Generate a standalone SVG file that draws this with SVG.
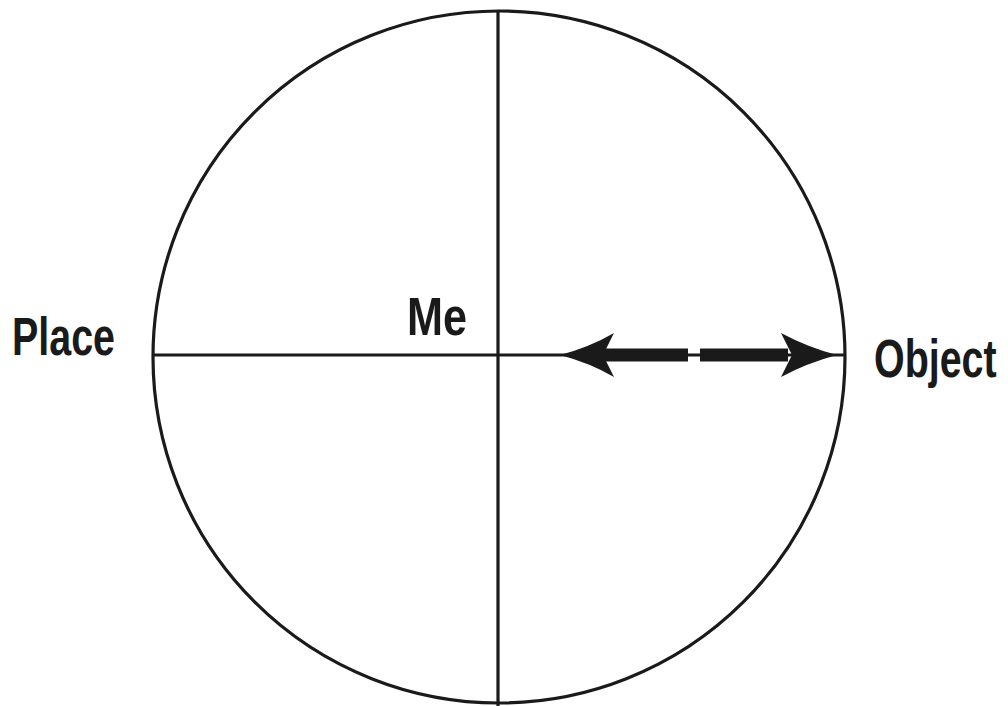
<svg xmlns="http://www.w3.org/2000/svg" width="1008" height="706" viewBox="0 0 1008 706">
<style>
.ln{fill:none;stroke:#1a1a1a;stroke-width:3.2}
.lbl{font-family:"Liberation Sans",Arial,sans-serif;font-weight:bold;font-size:54px;fill:#1a1a1a}
.ar{fill:#1a1a1a}
</style>
<rect width="1008" height="706" fill="#fff"/>
<g id="circle"><circle class="ln" cx="499" cy="357" r="346"/></g>
<g id="connectors">
<line class="ln" x1="498" y1="12" x2="498" y2="706"/>
<line class="ln" x1="153" y1="355" x2="846" y2="355"/>
<g id="arrow">
<path class="ar" d="M560,355 Q590,347 614,333 L603,355 L614,377 Q590,363 560,355 Z"/>
<rect class="ar" x="600" y="348.5" width="88" height="13"/>
<rect class="ar" x="700" y="348.5" width="88" height="13"/>
<path class="ar" d="M837,355 Q807,347 781,333 L792,355 L781,377 Q807,363 837,355 Z"/>
</g>
</g>
<g id="place"><text class="lbl" transform="translate(12,355) scale(0.73,1)">Place</text></g>
<g id="me"><text class="lbl" transform="translate(407,335) scale(0.8,1)">Me</text></g>
<g id="object"><text class="lbl" transform="translate(874,377) scale(0.73,1)">Object</text></g>
</svg>
